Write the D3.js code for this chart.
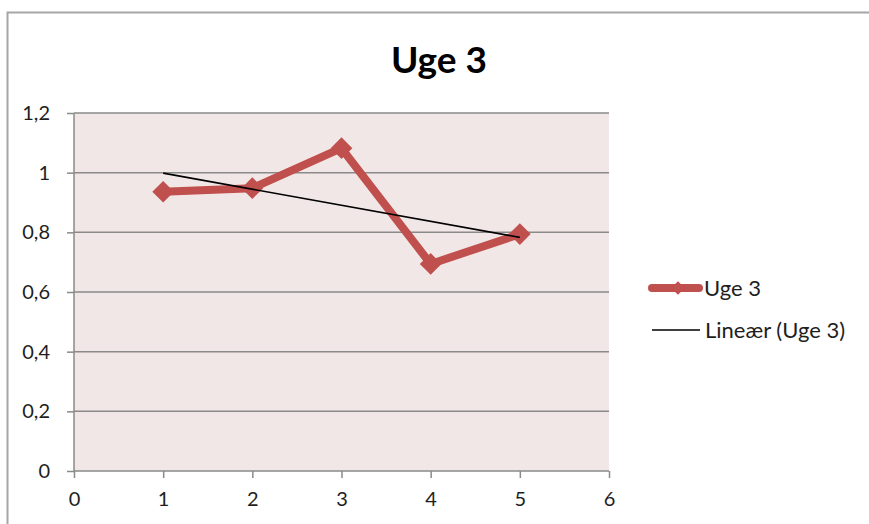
<!DOCTYPE html>
<html>
<head>
<meta charset="utf-8">
<script src="https://cdn.jsdelivr.net/npm/d3@7/dist/d3.min.js"></script>
<style>
  html, body { margin: 0; padding: 0; background: #ffffff; }
  svg { display: block; }
</style>
</head>
<body>
<svg id="chart" width="869" height="524"></svg>
<script>
// Weekly measurements for "Uge 3"
const days = [1, 2, 3, 4, 5];
const values = [0.936, 0.948, 1.082, 0.694, 0.794];
const xTicks = [0, 1, 2, 3, 4, 5, 6];
const yTicks = [0, 0.2, 0.4, 0.6, 0.8, 1.0, 1.2];
const seriesName = "Uge 3";
const trendName = "Lineær (Uge 3)";
const title = "Uge 3";

const svg = d3.select("#chart");
const font = "Lato, 'Open Sans', sans-serif";
const textColor = "#1e1e1e";
const gridColor = "#8a8a8a";
const seriesColor = "#c0504d";

// Outer chart frame
svg.append("path")
  .attr("d", "M7.5,530 V12.5 H875")
  .attr("fill", "none")
  .attr("stroke", "#a6a6a6")
  .attr("stroke-width", 2);

const plot = { left: 74, right: 609, top: 113, bottom: 471 };

const x = d3.scaleLinear().domain([0, 6]).range([plot.left, plot.right]);
const y = d3.scaleLinear().domain([0, 1.2]).range([plot.bottom, plot.top]);

// Plot background
svg.append("rect")
  .attr("x", plot.left).attr("y", plot.top)
  .attr("width", plot.right - plot.left)
  .attr("height", plot.bottom - plot.top)
  .attr("fill", "#f2e7e7");

// Horizontal gridlines
svg.append("g")
  .selectAll("line")
  .data(yTicks.filter(d => d > 0))
  .join("line")
  .attr("x1", plot.left).attr("x2", plot.right)
  .attr("y1", d => y(d)).attr("y2", d => y(d))
  .attr("stroke", gridColor).attr("stroke-width", 1.5);

const fmt = d => d3.format(".1~f")(d).replace(".", ",");

// Y axis
const yAxis = svg.append("g")
  .attr("transform", `translate(${plot.left},0)`)
  .call(d3.axisLeft(y).tickValues(yTicks).tickFormat(fmt).tickSize(7).tickPadding(17));
yAxis.select(".domain").attr("stroke", gridColor).attr("stroke-width", 1.5).attr("d", `M0,${plot.bottom}V${plot.top}`);
yAxis.selectAll(".tick line").attr("stroke", gridColor).attr("stroke-width", 1.5);
yAxis.selectAll(".tick text").attr("fill", textColor).style("font-family", font).style("font-size", "20px");

// X axis
const xAxis = svg.append("g")
  .attr("transform", `translate(0,${plot.bottom})`)
  .call(d3.axisBottom(x).tickValues(xTicks).tickFormat(d3.format("d")).tickSize(7).tickPadding(14));
xAxis.select(".domain").attr("stroke", gridColor).attr("stroke-width", 1.5).attr("d", `M${plot.left},0H${plot.right}`);
xAxis.selectAll(".tick line").attr("stroke", gridColor).attr("stroke-width", 1.5);
xAxis.selectAll(".tick text").attr("fill", textColor).style("font-family", font).style("font-size", "20px");

// Data series
const pts = days.map((d, i) => ({ x: d, y: values[i] }));
const line = d3.line().x(d => x(d.x)).y(d => y(d.y));
svg.append("path")
  .datum(pts)
  .attr("d", line)
  .attr("fill", "none")
  .attr("stroke", seriesColor)
  .attr("stroke-width", 8)
  .attr("stroke-linejoin", "round");

const diamond = d3.symbol().type(d3.symbolDiamond2).size(300);
svg.append("g")
  .selectAll("path")
  .data(pts)
  .join("path")
  .attr("transform", d => `translate(${x(d.x)},${y(d.y)})`)
  .attr("d", diamond)
  .attr("fill", seriesColor);

// Least-squares linear trend
const mx = d3.mean(days), my = d3.mean(values);
const slope = d3.sum(days, (d, i) => (d - mx) * (values[i] - my)) / d3.sum(days, d => (d - mx) ** 2);
const icpt = my - slope * mx;
const trend = [days[0], days[days.length - 1]].map(d => ({ x: d, y: icpt + slope * d }));
svg.append("path")
  .datum(trend)
  .attr("d", line)
  .attr("fill", "none")
  .attr("stroke", "#000")
  .attr("stroke-width", 1.6);

// Title
svg.append("text")
  .attr("x", 439).attr("y", 73)
  .attr("text-anchor", "middle")
  .style("font-family", font)
  .style("font-weight", "bold")
  .style("font-size", "37px")
  .attr("fill", "#000")
  .text(title);

// Legend
const leg = svg.append("g");
leg.append("line")
  .attr("x1", 652).attr("x2", 699).attr("y1", 288).attr("y2", 288)
  .attr("stroke", seriesColor).attr("stroke-width", 8).attr("stroke-linecap", "round");
leg.append("path")
  .attr("transform", "translate(678,288)")
  .attr("d", d3.symbol().type(d3.symbolDiamond2).size(120))
  .attr("fill", seriesColor);
leg.append("text")
  .attr("x", 704).attr("y", 296)
  .style("font-family", font).style("font-size", "22px")
  .attr("fill", textColor)
  .text(seriesName);
leg.append("line")
  .attr("x1", 652).attr("x2", 700).attr("y1", 330).attr("y2", 330)
  .attr("stroke", "#000").attr("stroke-width", 1.6);
leg.append("text")
  .attr("x", 705).attr("y", 338)
  .style("font-family", font).style("font-size", "22px")
  .attr("fill", textColor)
  .text(trendName);
</script>
</body>
</html>
